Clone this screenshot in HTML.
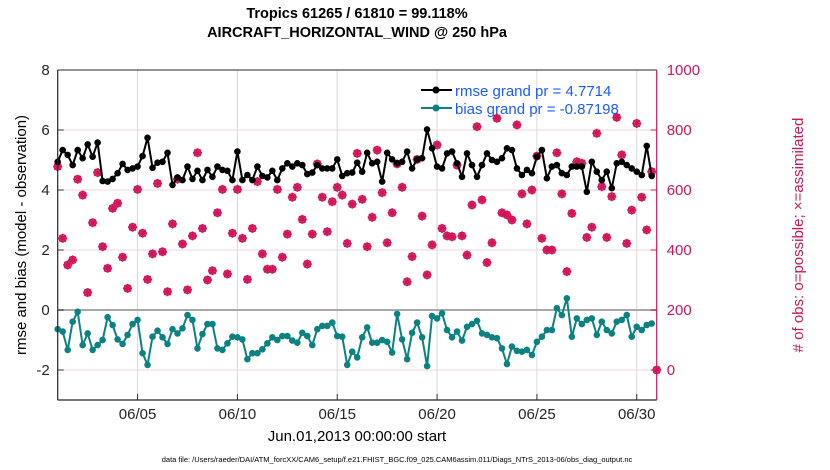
<!DOCTYPE html>
<html><head><meta charset="utf-8">
<style>
html,body{margin:0;padding:0;background:#fff;}
svg{display:block;font-family:"Liberation Sans",Arial,sans-serif;}
</style></head>
<body>
<svg id="chart" width="830" height="470" viewBox="0 0 830 470" xmlns="http://www.w3.org/2000/svg">
<text x="357" y="18" text-anchor="middle" font-size="14.5" font-weight="bold">Tropics 61265 / 61810 = 99.118%</text>
<text x="357" y="37" text-anchor="middle" font-size="14.5" font-weight="bold">AIRCRAFT_HORIZONTAL_WIND @ 250 hPa</text>
<g id="grid"></g>
<g id="marks"></g>
<g id="axes"></g>
<text transform="translate(26,235) rotate(-90)" text-anchor="middle" font-size="15">rmse and bias (model - observation)</text>
<text transform="translate(803,235) rotate(-90)" text-anchor="middle" font-size="15" fill="#d1145a"># of obs: o=possible; ×=assimilated</text>
<text x="357" y="441" text-anchor="middle" font-size="15">Jun.01,2013 00:00:00 start</text>
<text x="397" y="462" text-anchor="middle" font-size="7.5">data file: /Users/raeder/DAI/ATM_forcXX/CAM6_setup/f.e21.FHIST_BGC.f09_025.CAM6assim.011/Diags_NTrS_2013-06/obs_diag_output.nc</text>
<g>
  <line x1="421" y1="90" x2="452" y2="90" stroke="#000" stroke-width="2"/>
  <circle cx="436" cy="90" r="3.5" fill="#000"/>
  <text x="455" y="96" font-size="15" fill="#1a5cff">rmse grand pr = 4.7714</text>
  <line x1="421" y1="108" x2="452" y2="108" stroke="#0b8282" stroke-width="2"/>
  <circle cx="436" cy="108" r="3.5" fill="#0b8282"/>
  <text x="455" y="114" font-size="15" fill="#1a5cff">bias grand pr = -0.87198</text>
</g>
</svg>
<script>
const rmse = [4.94,5.33,5.17,4.83,5.33,5.06,5.52,5.11,5.58,4.3,4.28,4.37,4.56,4.87,4.67,4.72,4.78,5.13,5.74,4.74,4.91,4.94,5.24,4.17,4.42,4.33,4.78,4.37,4.64,4.33,4.67,4.44,4.78,4.67,4.64,4.33,5.28,4.33,4.5,4.33,
4.78,4.47,4.42,4.64,4.33,4.72,4.89,4.78,4.89,4.83,4.53,4.58,4.83,4.72,4.72,4.72,5.02,4.47,4.56,4.58,4.91,4.61,5.24,4.89,4.94,4.28,5.24,5.02,4.89,4.94,5.28,4.72,5.02,5.06,6.02,5.39,4.78,4.72,5.22,
5.28,4.89,4.44,5.22,4.83,4.44,4.83,5.22,5.0,4.94,5.06,5.39,5.33,4.72,4.5,4.67,4.56,5.11,5.33,4.39,4.78,4.83,4.56,4.5,4.78,4.78,4.78,3.94,4.94,4.61,4.33,4.61,4.06,4.89,4.94,4.83,4.72,4.61,4.5,5.47,4.47];
const bias = [-0.64,-0.72,-1.33,-0.39,-0.06,-1.17,-0.78,-1.33,-1.17,-1.0,-0.24,-0.5,-0.98,-1.13,-0.83,-0.47,-0.33,-1.44,-1.83,-0.89,-0.69,-0.91,-1.13,-0.64,-0.78,-0.61,-0.17,-0.33,-1.28,-0.8,-0.47,-0.47,-1.28,-1.33,-1.11,-0.89,-0.91,-0.98,-1.64,-1.44,
-1.44,-1.31,-1.11,-0.91,-1.0,-0.87,-0.87,-1.02,-1.09,-0.76,-0.87,-1.17,-0.64,-0.53,-0.53,-0.42,-0.87,-0.89,-1.83,-1.39,-1.58,-0.91,-0.58,-1.09,-1.09,-1.0,-1.06,-1.42,-0.13,-0.98,-1.64,-0.76,-0.42,-0.91,-1.87,-0.2,-0.28,-0.11,-0.67,
-0.91,-0.72,-1.02,-0.56,-0.47,-0.36,-0.78,-0.83,-0.91,-0.94,-1.28,-1.8,-1.22,-1.36,-1.39,-1.33,-1.5,-1.06,-0.89,-0.67,-0.67,0.06,-0.17,0.39,-0.89,-0.28,-0.47,-0.33,-0.28,-0.83,-0.39,-0.67,-0.78,-0.39,-0.33,-0.17,-0.89,-0.56,-0.67,-0.5,-0.45];
const nobs = [678,439,350,367,636,583,258,491,658,411,339,539,556,376,272,476,602,456,302,387,622,394,261,487,636,420,267,447,724,472,300,331,524,602,320,456,602,439,302,472,
628,387,336,336,602,376,453,576,609,502,353,453,687,576,461,561,609,583,422,553,722,569,411,509,733,591,424,524,687,609,294,378,702,513,317,417,750,472,447,
444,683,447,383,550,811,567,358,424,839,524,517,500,817,587,487,600,713,439,400,400,724,587,328,522,694,689,442,476,789,611,442,578,842,717,422,533,822,576,467,661,0];
const xTickLabels = ["06/05","06/10","06/15","06/20","06/25","06/30"];
const xTickDays = [4,9,14,19,24,29];
const yTicksLeft = [-2,0,2,4,6,8];
const yTicksRight = [0,200,400,600,800,1000];

const NS="http://www.w3.org/2000/svg";
const X0=57.7,X1=656.7,Y0=70,Y1=400;
const xs=d=>X0+(d/30)*(X1-X0);
const yL=v=>Y1-(v+3)/11*(Y1-Y0);
const yR=v=>370-v*0.3;
function mk(tag,attrs,parent){const e=document.createElementNS(NS,tag);for(const k in attrs)e.setAttribute(k,attrs[k]);parent.appendChild(e);return e;}
const grid=document.getElementById('grid'),marks=document.getElementById('marks'),axes=document.getElementById('axes');

xTickDays.forEach((d,i)=>{
  const g=mk('line',{x1:xs(d),x2:xs(d),y1:Y0,y2:Y1,stroke:'#d8d8d8','stroke-width':1},grid);
  
  
  const t=mk('line',{x1:xs(d),x2:xs(d),y1:Y1,y2:Y1-6,stroke:'#333','stroke-width':1},axes);
  
  
  const l=mk('text',{x:xs(d),y:Y1+19,'text-anchor':'middle','font-size':15,fill:'#262626'},axes);
  l.textContent=xTickLabels[i];
  
  
});
yTicksRight.forEach(v=>{
  const g=mk('line',{x1:X0,x2:X1,y1:yR(v),y2:yR(v),stroke:'#f0d5df','stroke-width':1},grid);
  
  
  const l=mk('text',{x:X1+10,y:yR(v)+5,'font-size':15,fill:'#d1145a'},axes);
  l.textContent=v;
  
  
  const t=mk('line',{x1:X1,x2:X1-6,y1:yR(v),y2:yR(v),stroke:'#d1145a'},axes);
  
  
});
yTicksLeft.forEach(v=>{
  const l=mk('text',{x:X0-8,y:yL(v)+5,'text-anchor':'end','font-size':15,fill:'#262626'},axes);
  l.textContent=v;
  
  
  const t=mk('line',{x1:X0,x2:X0+6,y1:yL(v),y2:yL(v),stroke:'#333'},axes);
  
  
});
const zl=mk('line',{x1:X0,x2:X1,y1:yL(0),y2:yL(0),stroke:'#a8a8a8','stroke-width':2},grid);



nobs.forEach((v,i)=>{
  const g=mk('g',{},marks);
  
  
  const cx=xs(i*0.25),cy=yR(v);
  mk('circle',{cx:cx,cy:cy,r:3.5,fill:'none',stroke:'#d1145a','stroke-width':1.4},g);
  mk('path',{d:`M${cx-4.5},${cy}H${cx+4.5}M${cx},${cy-4.5}V${cy+4.5}M${cx-3.2},${cy-3.2}L${cx+3.2},${cy+3.2}M${cx-3.2},${cy+3.2}L${cx+3.2},${cy-3.2}`,stroke:'#d1145a','stroke-width':1.6},g);
  mk('circle',{cx:cx,cy:cy,r:2.4,fill:'#d1145a'},g);
});
function series(arr,color,name){
  const pts=arr.map((v,i)=>xs(i*0.25)+','+yL(v)).join(' ');
  const pl=mk('polyline',{points:pts,fill:'none',stroke:color,'stroke-width':2},marks);
  
  
  arr.forEach((v,i)=>{
    const c=mk('circle',{cx:xs(i*0.25),cy:yL(v),r:3.3,fill:color},marks);
    
    
  });
}
series(rmse,'#000','rmse');
series(bias,'#0b8282','bias');

const la=mk('line',{x1:X0,x2:X0,y1:Y0,y2:Y1,stroke:'#262626','stroke-width':1.2},axes);


const ba=mk('line',{x1:X0,x2:X1,y1:Y1,y2:Y1,stroke:'#262626','stroke-width':1.2},axes);


const ta=mk('line',{x1:X0,x2:X1,y1:Y0,y2:Y0,stroke:'#262626','stroke-width':1},axes);


const ra=mk('line',{x1:X1,x2:X1,y1:Y0,y2:Y1,stroke:'#d1145a','stroke-width':1.2},axes);


</script>
</body></html>
